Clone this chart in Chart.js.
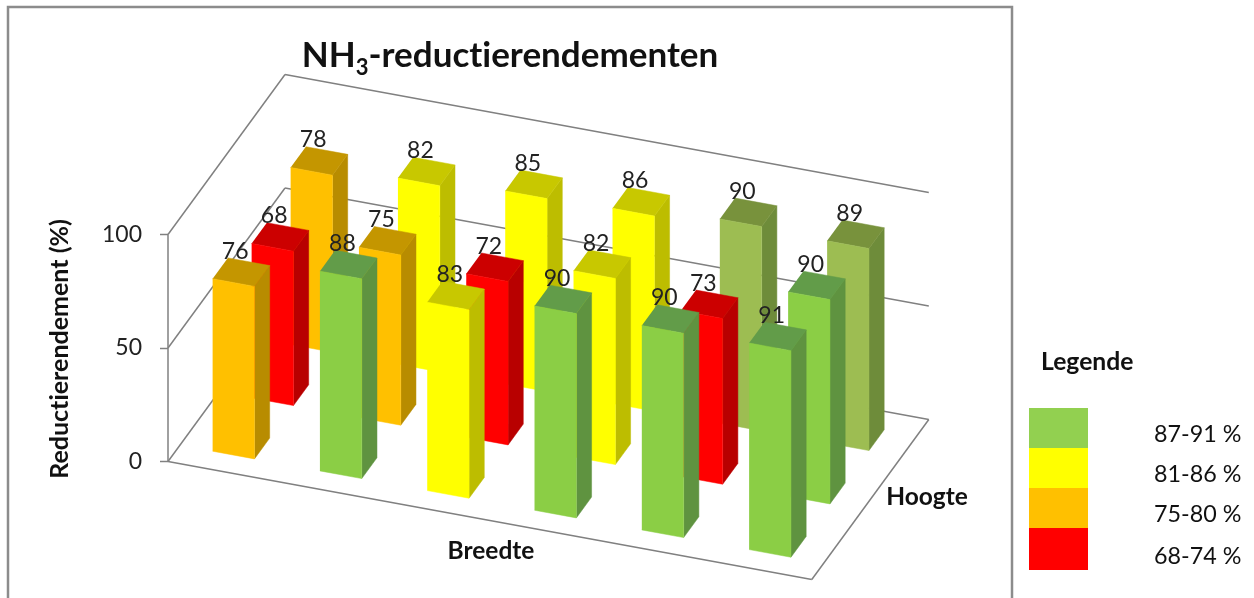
<!DOCTYPE html>
<html>
<head>
<meta charset="utf-8">
<title>NH3-reductierendementen</title>
<script src="https://cdn.jsdelivr.net/npm/chart.js@4"></script>
<style>
  html, body { margin: 0; padding: 0; background: #fff; overflow: hidden; }
  #wrap { position: relative; width: 1254px; height: 598px; font-family: Lato, sans-serif; color: #111; font-variant-ligatures: none; }
  canvas { position: absolute; left: 0; top: 0; }
  #title { position: absolute; left: 210px; width: 600px; top: 33px; text-align: center; font-size: 35px; font-weight: 700; line-height: 40px; white-space: nowrap; }
  #title sub { font-size: 22px; line-height: 0; }
  #legendTitle { position: absolute; left: 1041px; top: 347px; font-size: 24.7px; font-weight: 700; line-height: 28px; }
  .swatch { position: absolute; left: 1029px; width: 59px; }
  .range { position: absolute; left: 1154px; font-size: 23.3px; line-height: 28px; white-space: nowrap; }
</style>
</head>
<body>
<div id="wrap">
  <canvas id="chart" width="1254" height="598"></canvas>
  <div id="title">NH<sub>3</sub>-reductierendementen</div>
  <div id="legendTitle">Legende</div>
</div>
<script>
  // values, left to right along "Breedte"
  const backRow = [78, 82, 85, 86, 90, 89];
  const middleRow = [68, 75, 72, 82, 73, 90];
  const frontRow = [76, 88, 83, 90, 90, 91];
  const rows = [frontRow, middleRow, backRow];

  const yTicks = [0, 50, 100];
  const bandLabels = ["87-91 %", "81-86 %", "75-80 %", "68-74 %"];
  const bandMins = [87, 81, 75, 68];
  const bandColors = ["#92D050", "#FFFF00", "#FFC000", "#FF0000"];

  // bar face shades per band: front, side, top
  const faceFront = ["#8BCE45", "#FFFF00", "#FFC000", "#FF0000"];
  const faceSide = ["#5F9340", "#BDBD00", "#B88C00", "#B80000"];
  const faceTop = ["#629C49", "#C8C800", "#C49600", "#CC0000"];
  // the two right bars of the back row are a duller green in the picture
  const oliveFaces = ["#9DBD52", "#6E8C3A", "#78923C"];

  const numCols = 6;
  const numRows = 3;
  const barSize = 0.39;

  // oblique projection of (column, row, value) into the chart's x/y units
  function project(u, w, v) {
    return { x: u + 0.3635 * w, y: v - 8.665 * u + 23.5 * w };
  }

  function face(points, color) {
    return {
      data: points,
      showLine: true,
      fill: "shape",
      backgroundColor: color,
      borderColor: color,
      borderWidth: 0.5,
      pointRadius: 0,
      clip: false,
    };
  }

  function line(from, to) {
    return {
      data: [from, to],
      showLine: true,
      fill: false,
      borderColor: "#808080",
      borderWidth: 1.5,
      pointRadius: 0,
      clip: false,
    };
  }

  function barFaces(c, r, value) {
    const u0 = c + 0.5 - barSize / 2;
    const u1 = u0 + barSize;
    const w0 = r + 0.5 - barSize / 2;
    const w1 = w0 + barSize;
    const band = bandMins.findIndex((min) => value >= min);
    const olive = r === 2 && c >= 4;
    const front = olive ? oliveFaces[0] : faceFront[band];
    const side = olive ? oliveFaces[1] : faceSide[band];
    const top = olive ? oliveFaces[2] : faceTop[band];
    return [
      face([project(u1, w0, 0), project(u1, w1, 0), project(u1, w1, value), project(u1, w0, value)], side),
      face([project(u0, w0, value), project(u1, w0, value), project(u1, w1, value), project(u0, w1, value)], top),
      face([project(u0, w0, 0), project(u1, w0, 0), project(u1, w0, value), project(u0, w0, value)], front),
    ];
  }

  // painter's order: walls and floor, then rows from back to front
  const layers = [
    line(project(0, 0, 0), project(0, 0, 100)),
    line(project(0, 0, 0), project(numCols, 0, 0)),
    line(project(numCols, 0, 0), project(numCols, numRows, 0)),
    line(project(0, numRows, 0), project(numCols, numRows, 0)),
    line(project(0, 0, 0), project(0, numRows, 0)),
  ];
  yTicks.slice(1).forEach((t) => {
    layers.push(line(project(0, 0, t), project(0, numRows, t)));
    layers.push(line(project(0, numRows, t), project(numCols, numRows, t)));
  });
  for (let r = numRows - 1; r >= 0; r--) {
    rows[r].forEach((value, c) => layers.push(...barFaces(c, r, value)));
  }

  // Chart.js paints the first dataset last
  const datasets = layers.reverse();

  const framePlugin = {
    id: "frame",
    beforeDraw(chart) {
      const ctx = chart.ctx;
      ctx.save();
      ctx.strokeStyle = "#8c8c8c";
      ctx.lineWidth = 2.5;
      ctx.strokeRect(8, 7, 1004, 700);
      ctx.restore();
    },
  };

  const textPlugin = {
    id: "chartText",
    afterDraw(chart) {
      const ctx = chart.ctx;
      const xs = chart.scales.x;
      const ys = chart.scales.y;
      ctx.save();
      ctx.fillStyle = "#222";
      ctx.textAlign = "center";
      ctx.textBaseline = "middle";
      ctx.fontVariantLigatures = "none";
      ctx.textRendering = "optimizeSpeed";

      // value above every bar
      ctx.font = "23px Lato";
      rows.forEach((row, r) => {
        row.forEach((value, c) => {
          const p = project(c + 0.5, r + 0.5, value);
          ctx.fillText(String(value), xs.getPixelForValue(p.x) - 6, ys.getPixelForValue(p.y) - 21);
        });
      });

      ctx.fillStyle = "#111";
      ctx.font = "bold 24.5px Lato";
      ctx.fillText("Breedte", 491, 551);
      ctx.fillText("Hoogte", 927, 497);

      ctx.translate(60, 349);
      ctx.rotate(-Math.PI / 2);
      ctx.font = "bold 25px Lato";
      ctx.fillText("Reductierendement (%)", 0, 0);
      ctx.restore();
    },
  };

  new Chart(document.getElementById("chart").getContext("2d"), {
    type: "scatter",
    data: { datasets: datasets },
    options: {
      responsive: false,
      animation: false,
      layout: { padding: { top: 7.5, right: 254, bottom: 23, left: 0 } },
      plugins: {
        legend: { display: false },
        tooltip: { enabled: false },
      },
      scales: {
        x: { type: "linear", display: false, min: 0, max: 7.754 },
        y: {
          type: "linear",
          min: -50,
          max: 200,
          afterFit(scale) {
            scale.width = 168;
            scale.paddingTop = 0;
            scale.paddingBottom = 0;
          },
          border: { display: false },
          grid: {
            drawOnChartArea: false,
            tickLength: 8,
            tickColor: (ctx) => (yTicks.includes(ctx.tick.value) ? "#808080" : "transparent"),
            tickWidth: 1.5,
          },
          ticks: {
            stepSize: 50,
            padding: 18,
            color: "#222",
            font: { family: "Lato", size: 23 },
            callback: (value) => (yTicks.includes(value) ? value : ""),
          },
        },
      },
    },
    plugins: [framePlugin, textPlugin],
  });

  // legend on the right, outside the frame
  const wrap = document.getElementById("wrap");
  const swatchTops = [408, 448, 488, 528, 570];
  bandLabels.forEach((label, i) => {
    const swatch = document.createElement("div");
    swatch.className = "swatch";
    swatch.style.top = swatchTops[i] + "px";
    swatch.style.height = swatchTops[i + 1] - swatchTops[i] + "px";
    swatch.style.background = bandColors[i];
    wrap.appendChild(swatch);

    const text = document.createElement("div");
    text.className = "range";
    text.style.top = swatchTops[i] + 11 + (i === 3 ? 2 : 0) + "px";
    text.textContent = label;
    wrap.appendChild(text);
  });
</script>
</body>
</html>
